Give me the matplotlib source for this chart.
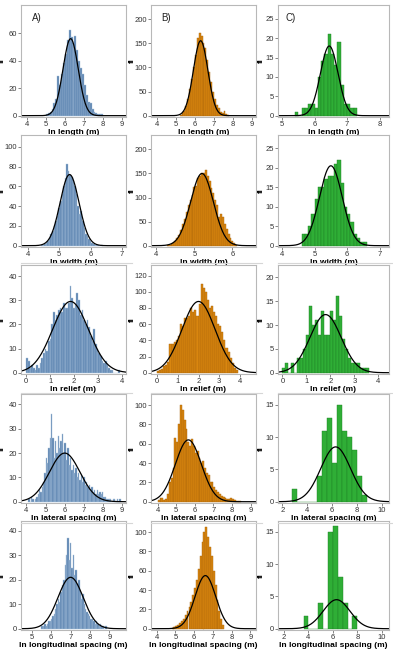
import matplotlib
matplotlib.use("Agg")
import matplotlib.pyplot as plt
import numpy as np

plt.rcParams["font.family"] = ["Liberation Sans", "DejaVu Sans"]

# column colours (A blue, B orange, C green)
fills = ["#5a83b0", "#d9860f", "#2fae36"]
edges = ["#a9c1da", "#a8640a", "#1f7f24"]
letters = ["A)", "B)", "C)"]
xlabels = ["ln length (m)", "ln width (m)", "ln relief (m)",
           "ln lateral spacing (m)", "ln longitudinal spacing (m)"]

# ---- row 1 : ln length ----
len_a_start, len_a_bw = 5.0, 0.1
len_a_counts = [1, 2, 3, 5, 9, 12, 29, 22, 30, 38, 45, 55, 62, 57, 52, 58, 48, 40,
                35, 30, 22, 15, 10, 9, 5, 3, 2, 1, 1, 1]
len_a_fit = (6.3, 0.40, 56)
len_b_start, len_b_bw = 5.2, 0.1
len_b_counts = [2, 5, 10, 20, 35, 55, 75, 100, 125, 160, 172, 165, 150, 140, 115,
                90, 70, 50, 35, 22, 15, 8, 5, 10, 3, 1]
len_b_fit = (6.3, 0.38, 155)
len_c_start, len_c_bw = 5.4, 0.1
len_c_counts = [1, 0, 2, 2, 3, 3, 2, 10, 14, 16, 21, 16, 13, 19, 8, 3, 3, 2, 2]
len_c_fit = (6.45, 0.27, 18)

# ---- row 2 : ln width ----
wid_a_start, wid_a_bw = 4.425, 0.05
wid_a_counts = [1, 1, 2, 3, 5, 8, 12, 15, 20, 25, 30, 38, 45, 52, 60, 68, 83, 76,
                72, 70, 65, 60, 52, 40, 32, 35, 25, 18, 12, 10, 7, 5, 3, 2, 1, 1, 1, 0, 1]
wid_a_fit = (5.33, 0.30, 72)
wid_b_start, wid_b_bw = 4.275, 0.05
wid_b_counts = [1, 2, 4, 6, 10, 15, 22, 32, 45, 55, 70, 85, 95, 105, 122, 125, 140,
                145, 150, 150, 157, 145, 135, 120, 110, 95, 85, 60, 65, 60, 45, 35,
                25, 15, 10, 5, 2]
wid_b_fit = (5.2, 0.30, 150)
wid_c_start, wid_c_bw = 4.6, 0.1
wid_c_counts = [3, 3, 5, 8, 12, 15, 15, 17, 18, 18, 21, 22, 16, 10, 8, 6, 3, 2, 1, 1]
wid_c_fit = (5.5, 0.35, 20.5)

# ---- row 3 : ln relief ----
rel_a_start, rel_a_bw = 0.0, 0.07
rel_a_counts = [6, 5, 2, 3, 2, 1, 3, 2, 4, 6, 8, 10, 9, 13, 14, 20, 25, 22, 24, 26,
                27, 25, 29, 27, 27, 29, 36, 31, 27, 28, 33, 30, 24, 26, 22, 20, 22,
                19, 15, 13, 18, 12, 10, 8, 7, 5, 4, 5, 3, 2, 1, 1, 0, 0, 0, 1]
rel_a_fit = (1.85, 0.75, 29.5)
rel_b_start, rel_b_bw = 0.0, 0.1
rel_b_counts = [2, 3, 5, 8, 10, 13, 35, 36, 38, 40, 45, 60, 58, 67, 68, 70, 80, 75,
                78, 70, 85, 110, 105, 100, 90, 80, 82, 75, 70, 60, 58, 50, 40, 30,
                25, 18, 12, 6, 3]
rel_b_fit = (2.0, 0.80, 88)
rel_c_start, rel_c_bw = 0.0, 0.125
rel_c_counts = [1, 2, 0, 2, 0, 3, 3, 5, 8, 14, 10, 11, 8, 13, 8, 8, 13, 11, 16, 12,
                7, 5, 3, 2, 2, 2, 1, 1, 1]
rel_c_fit = (1.8, 0.65, 12.2)

# ---- row 4 : ln lateral spacing ----
lat_a_start, lat_a_bw = 4.1, 0.07
lat_a_counts = [1, 0, 2, 1, 0, 1, 2, 3, 5, 4, 6, 8, 12, 18, 16, 22, 26, 36, 26, 18,
                25, 20, 27, 22, 25, 28, 20, 24, 17, 22, 15, 18, 13, 15, 12, 14, 10,
                12, 9, 11, 8, 10, 7, 8, 6, 7, 5, 6, 4, 5, 3, 5, 3, 4, 3, 4, 2, 2, 1,
                1, 1, 1, 0, 1, 1, 0, 1, 0, 1]
lat_a_fit = (6.0, 0.80, 20)
lat_b_start, lat_b_bw = 4.0, 0.1
lat_b_counts = [2, 4, 4, 2, 3, 8, 20, 25, 35, 66, 62, 80, 100, 95, 85, 75, 62, 58,
                65, 58, 50, 52, 45, 40, 42, 35, 30, 28, 20, 20, 15, 12, 10, 8, 6, 5,
                4, 3, 3, 4, 3, 2, 1, 1, 1]
lat_b_fit = (5.65, 0.70, 64)
lat_c_start, lat_c_bw = 2.8, 0.4
lat_c_counts = [2, 0, 0, 0, 0, 4, 11, 13, 6, 15, 11, 10, 8, 4, 1]
lat_c_fit = (6.3, 1.2, 8.5)

# ---- row 5 : ln longitudinal spacing ----
lon_a_start, lon_a_bw = 5.5, 0.07
lon_a_counts = [1, 1, 2, 1, 2, 3, 3, 4, 5, 6, 8, 10, 12, 11, 15, 18, 20, 26, 30, 37,
                28, 35, 25, 30, 22, 24, 18, 20, 15, 12, 14, 10, 8, 7, 6, 5, 4, 4, 3,
                2, 3, 2, 1, 2, 1, 1, 0, 1]
lon_a_fit = (7.0, 0.65, 21)
lon_b_start, lon_b_bw = 4.8, 0.1
lon_b_counts = [1, 2, 3, 4, 6, 8, 10, 14, 18, 22, 28, 35, 42, 50, 62, 75, 90, 100,
                105, 95, 85, 75, 60, 45, 30, 18, 10, 4]
lon_b_fit = (6.6, 0.55, 55)
lon_c_start, lon_c_bw = 3.6, 0.4
lon_c_counts = [2, 0, 0, 4, 0, 15, 16, 8, 4, 0, 2]
lon_c_fit = (6.3, 1.1, 4.5)

hists = [
    [(len_a_start, len_a_bw, len_a_counts, len_a_fit),
     (len_b_start, len_b_bw, len_b_counts, len_b_fit),
     (len_c_start, len_c_bw, len_c_counts, len_c_fit)],
    [(wid_a_start, wid_a_bw, wid_a_counts, wid_a_fit),
     (wid_b_start, wid_b_bw, wid_b_counts, wid_b_fit),
     (wid_c_start, wid_c_bw, wid_c_counts, wid_c_fit)],
    [(rel_a_start, rel_a_bw, rel_a_counts, rel_a_fit),
     (rel_b_start, rel_b_bw, rel_b_counts, rel_b_fit),
     (rel_c_start, rel_c_bw, rel_c_counts, rel_c_fit)],
    [(lat_a_start, lat_a_bw, lat_a_counts, lat_a_fit),
     (lat_b_start, lat_b_bw, lat_b_counts, lat_b_fit),
     (lat_c_start, lat_c_bw, lat_c_counts, lat_c_fit)],
    [(lon_a_start, lon_a_bw, lon_a_counts, lon_a_fit),
     (lon_b_start, lon_b_bw, lon_b_counts, lon_b_fit),
     (lon_c_start, lon_c_bw, lon_c_counts, lon_c_fit)],
]

# axis limits and ticks for each panel
xlims = [[(3.7, 9.2), (3.7, 9.2), (4.88, 8.28)],
         [(3.79, 7.12), (3.86, 6.62), (3.88, 7.28)],
         [(-0.22, 4.17), (-0.29, 4.77), (-0.18, 4.44)],
         [(3.72, 9.2), (3.64, 9.29), (1.65, 10.6)],
         [(4.45, 9.85), (3.7, 9.3), (1.5, 10.6)]]
xticks = [[range(4, 10), range(4, 10), range(5, 9)],
          [range(4, 8), range(4, 7), range(4, 8)],
          [range(0, 5), range(0, 5), range(0, 5)],
          [range(4, 10), range(4, 10), range(2, 11, 2)],
          [range(5, 10), range(4, 10), range(2, 11, 2)]]
ylims = [[80.5, 229, 28.6], [112, 230, 28.4], [44.6, 133, 22.6],
         [44.3, 111.5, 16.7], [44.0, 111.5, 16.7]]
yticks = [[range(0, 61, 20), range(0, 201, 50), range(0, 26, 5)],
          [range(0, 101, 20), range(0, 201, 50), range(0, 26, 5)],
          [range(0, 41, 10), range(0, 121, 20), range(0, 21, 5)],
          [range(0, 41, 10), range(0, 101, 20), range(0, 16, 5)],
          [range(0, 41, 10), range(0, 101, 20), range(0, 16, 5)]]

W, H = 393, 654
fig = plt.figure(figsize=(W / 100, H / 100), dpi=100)

col_lr = [(21, 126), (151, 256), (278, 389)]
row_tb = [(5, 117), (135, 247), (265, 374), (394, 503), (521, 630)]
fi_x = [6, 136, 265]  # right edge of the rotated "fi" label, px

for r in range(5):
    for c in range(3):
        l, rr = col_lr[c]
        t, b = row_tb[r]
        ax = fig.add_axes([l / W, 1 - b / H, (rr - l) / W, (b - t) / H])
        start, bw, counts, (mu, sd, peak) = hists[r][c]
        counts = np.array(counts)
        lefts = start + bw * np.arange(len(counts))
        ax.bar(lefts, counts, width=bw, align="edge", color=fills[c],
               edgecolor=edges[c], linewidth=0.3)
        xs = np.linspace(*xlims[r][c], 300)
        ax.plot(xs, peak * np.exp(-0.5 * ((xs - mu) / sd) ** 2), color="black", lw=0.9)
        ax.set_xlim(xlims[r][c])
        ax.set_ylim(-ylims[r][c] * 0.012, ylims[r][c])
        ax.set_xticks(list(xticks[r][c]))
        ax.set_yticks(list(yticks[r][c]))
        ax.tick_params(direction="out", length=2, width=0.5, color="#555555",
                       labelsize=5.5, labelcolor="#333333", pad=1)
        for s in ax.spines.values():
            s.set_color("#b8b8b8")
            s.set_linewidth(0.8)
        ax.set_xlabel(xlabels[r], fontsize=6, fontweight="bold", labelpad=0.5)
        ax.set_ylabel("fi", fontsize=5.5, fontweight="bold")
        ax.yaxis.set_label_coords((fi_x[c] - l) / (rr - l), 0.5)
        if r == 0:
            ax.text(0.1 if c < 2 else 0.07, 0.93, letters[c], transform=ax.transAxes,
                    fontsize=7, va="top", ha="left", color="#222222")

# faint frame lines seen under the x labels of rows 2-4
for y in [263, 393, 523]:
    for l, rr in col_lr:
        fig.add_artist(plt.Line2D([l / W, (rr + 6) / W], [1 - y / H, 1 - y / H],
                                  color="#d6d6d6", lw=0.8))

fig.savefig("out.png", dpi=100)
